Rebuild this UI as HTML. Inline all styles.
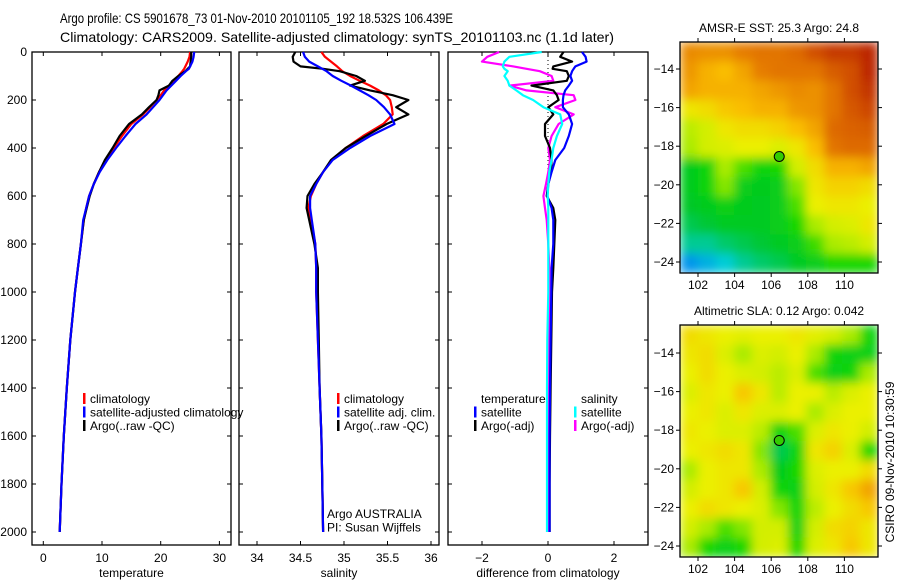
<!DOCTYPE html>
<html><head><meta charset="utf-8">
<style>
html,body{margin:0;padding:0;background:#fff;}
svg{display:block;font-family:"Liberation Sans",sans-serif;}
</style></head>
<body>
<svg id="fig" width="900" height="580" viewBox="0 0 900 580" xmlns="http://www.w3.org/2000/svg">
<defs>
<filter id="blurA" filterUnits="userSpaceOnUse" x="680" y="42" width="198" height="231"><feGaussianBlur stdDeviation="5" edgeMode="duplicate"/></filter>
<filter id="blurB" filterUnits="userSpaceOnUse" x="680" y="325" width="198" height="232"><feGaussianBlur stdDeviation="5" edgeMode="duplicate"/></filter>
<clipPath id="clipA"><rect x="680" y="42" width="198" height="231"/></clipPath>
<clipPath id="clipB"><rect x="680" y="325" width="198" height="232"/></clipPath>
</defs>
<text x="60" y="23" font-size="14" textLength="393" lengthAdjust="spacingAndGlyphs">Argo profile: CS 5901678_73 01-Nov-2010 20101105_192 18.532S 106.439E</text>
<text x="60" y="42" font-size="14" textLength="554" lengthAdjust="spacingAndGlyphs">Climatology: CARS2009. Satellite-adjusted climatology: synTS_20101103.nc (1.1d later)</text>
<g id="layer"></g>
</svg>
<script>
// ---- profile data ----
const depths = [0,20,40,60,70,80,100,120,140,160,180,200,230,260,300,350,400,450,500,550,600,650,700,800,900,1000,1200,1400,1600,1800,2000];
const tempClim = [25,24.9,24.6,24.2,24,23.7,23,22.2,21.4,20.6,20,19.3,18.2,17,15,13.4,12,10.6,9.5,8.6,7.8,7.3,6.9,6.4,5.9,5.4,4.6,4,3.5,3.1,2.8];
const tempSat = [25.7,25.6,25.4,25,24.8,24.3,23.4,22.6,21.8,21,20.4,19.8,18.7,17.6,15.7,14,12.4,10.9,9.6,8.6,7.8,7.3,6.8,6.4,5.9,5.4,4.6,4,3.5,3.1,2.8];
const tempArgo = [25.2,25.2,25.1,25,24.6,24.2,23,22,21.4,19.8,19.6,19.3,18,16.8,14.6,13,11.8,10.5,9.5,8.6,7.9,7.4,6.9,6.4,5.9,5.4,4.6,4,3.5,3.1,2.8];
const salClim = [34.74,34.78,34.85,34.92,34.95,34.98,35.07,35.18,35.3,35.4,35.48,35.53,35.55,35.56,35.45,35.22,35.02,34.86,34.76,34.68,34.62,34.59,34.62,34.67,34.68,34.68,34.7,34.72,34.74,34.75,34.76];
const salSat = [34.53,34.55,34.6,34.7,34.75,34.8,34.87,34.97,35.08,35.18,35.28,35.37,35.46,35.53,35.58,35.3,35.07,34.87,34.76,34.68,34.61,34.61,34.63,34.67,34.68,34.68,34.7,34.72,34.74,34.75,34.76];
const salArgo = [34.44,34.41,34.42,34.5,34.76,34.95,35.14,35.24,35.07,35.3,35.56,35.74,35.6,35.74,35.49,35.25,35.02,34.85,34.76,34.66,34.58,34.57,34.6,34.66,34.7,34.7,34.71,34.72,34.74,34.75,34.76];
const diffTempSat = [1.03,1.14,1.17,0.83,0.78,0.73,0.68,0.73,0.63,0.52,0.47,0.45,0.45,0.63,0.73,0.63,0.49,0.22,0.11,0.01,-0.02,0.11,0.16,0.16,0.11,0.1,0.08,0.06,0.05,0.05,0.05];
const diffTempArgo = [0.47,0.37,0.73,0.16,0.14,0.57,0.63,0.57,-0.5,0.16,0.27,0.32,0.01,0.16,-0.09,-0.09,0.06,0.11,0.09,0.01,-0.04,0.16,0.22,0.19,0.16,0.12,0.1,0.08,0.06,0.05,0.05];
const diffSalSat = [-0.19,-1.17,-1.32,-1.37,-1.32,-1.22,-1.32,-1.22,-1.17,-0.96,-0.76,-0.45,-0.14,0.37,0.43,0.27,0.16,0.11,0.04,0.01,-0.01,0.01,0.01,0.01,0.01,0.01,-0.02,-0.03,-0.03,-0.03,-0.03];
const diffSalArgo = [-1.48,-1.84,-2.0,-1.05,-0.65,-0.25,0.11,0.16,-1.17,-0.65,0.78,0.83,0.22,0.78,0.32,0.11,0.01,0.06,0.01,-0.06,-0.14,-0.09,-0.04,0.01,0.04,0.04,0.03,0.03,0.02,0.02,0.02];
const depthTicks = [0,200,400,600,800,1000,1200,1400,1600,1800,2000];
const tempTicks = [0,10,20,30];
const salTicks = [34,34.5,35,35.5,36];
const diffTicks = [-2,0,2];
// ---- map data (normalised colour values, rows north->south, cols west->east) ----
const lonTicks = [102,104,106,108,110];
const latTicks = [-14,-16,-18,-20,-22,-24];
const sstGrid = [
[0.76,0.75,0.75,0.78,0.8,0.8,0.82,0.88,0.92,0.92,0.95],
[0.74,0.7,0.68,0.72,0.78,0.8,0.8,0.8,0.85,0.88,0.95],
[0.72,0.7,0.7,0.7,0.72,0.74,0.76,0.75,0.8,0.88,0.93],
[0.6,0.62,0.66,0.68,0.7,0.7,0.74,0.75,0.8,0.86,0.9],
[0.52,0.55,0.6,0.62,0.62,0.64,0.68,0.72,0.82,0.84,0.85],
[0.5,0.55,0.56,0.58,0.58,0.56,0.6,0.68,0.8,0.82,0.82],
[0.35,0.4,0.5,0.45,0.4,0.42,0.55,0.62,0.7,0.7,0.72],
[0.35,0.4,0.48,0.36,0.35,0.36,0.48,0.6,0.64,0.64,0.62],
[0.33,0.35,0.38,0.35,0.34,0.36,0.45,0.58,0.6,0.6,0.58],
[0.3,0.32,0.34,0.34,0.34,0.36,0.42,0.5,0.55,0.56,0.6],
[0.25,0.25,0.28,0.3,0.32,0.34,0.36,0.44,0.5,0.52,0.55],
[0.1,0.15,0.2,0.25,0.28,0.3,0.34,0.36,0.42,0.42,0.42]];
const slaGrid = [
[0.62,0.6,0.58,0.57,0.58,0.58,0.6,0.57,0.55,0.5,0.4],
[0.6,0.62,0.56,0.5,0.56,0.55,0.58,0.5,0.4,0.38,0.38],
[0.58,0.62,0.58,0.56,0.55,0.52,0.56,0.45,0.38,0.4,0.5],
[0.56,0.6,0.58,0.66,0.6,0.52,0.58,0.58,0.52,0.56,0.58],
[0.58,0.6,0.56,0.6,0.56,0.56,0.58,0.5,0.56,0.58,0.58],
[0.6,0.58,0.56,0.56,0.52,0.4,0.45,0.56,0.6,0.58,0.55],
[0.58,0.6,0.62,0.6,0.48,0.3,0.4,0.6,0.64,0.56,0.42],
[0.5,0.58,0.6,0.6,0.5,0.35,0.42,0.56,0.58,0.58,0.62],
[0.55,0.58,0.6,0.66,0.55,0.4,0.38,0.55,0.6,0.66,0.72],
[0.58,0.62,0.6,0.58,0.56,0.48,0.4,0.52,0.58,0.62,0.66],
[0.55,0.5,0.45,0.48,0.55,0.55,0.38,0.55,0.62,0.64,0.6],
[0.5,0.42,0.38,0.42,0.55,0.56,0.42,0.56,0.6,0.66,0.6]];
const floatLon = 106.439, floatLat = -18.532;

const NS='http://www.w3.org/2000/svg';
const layer=document.getElementById('layer');
function mk(tag,attrs,parent){const e=document.createElementNS(NS,tag);for(const k in attrs)e.setAttribute(k,attrs[k]);(parent||layer).appendChild(e);return e;}
function txt(s,attrs,parent){const e=mk('text',attrs,parent);e.textContent=s;return e;}

// axes
const yTop=52, yBot=545;
const yD = d => 52 + d*0.24;
const xT = v => 43.3 + v*5.87;
const xS = v => 257 + (v-34)*87;
const xDf = v => 548 + v*33;

function panel(name,x0,x1,xf,ticks,label,labelName){
  const g=mk('g',{});
  
  
  const r=mk('rect',{x:x0,y:yTop,width:x1-x0,height:yBot-yTop,fill:'none',stroke:'#000','stroke-width':1.3},g);
  
  
  ticks.forEach(t=>{
    const x=xf(t);
    mk('line',{x1:x,x2:x,y1:yBot,y2:yBot-4,stroke:'#000'},g);
    mk('line',{x1:x,x2:x,y1:yTop,y2:yTop+4,stroke:'#000'},g);
    const tl=txt(String(t).replace('-','\u2212'),{x:x,y:562,'font-size':12,'text-anchor':'middle'},g);
    
    
  });
  depthTicks.forEach(d=>{
    const y=yD(d);
    mk('line',{x1:x0,x2:x0+4,y1:y,y2:y,stroke:'#000'},g);
    mk('line',{x1:x1,x2:x1-4,y1:y,y2:y,stroke:'#000'},g);
  });
  const al=txt(label,{x:(x0+x1)/2,y:577,'font-size':12,'text-anchor':'middle'},g);
  
  
  return g;
}
function series(g,xs,xf,color,name,w){
  const pts=xs.map((v,i)=>xf(v).toFixed(1)+','+yD(depths[i]).toFixed(1)).join(' ');
  const p=mk('polyline',{points:pts,fill:'none',stroke:color,'stroke-width':w||2.2,'stroke-linejoin':'round'},g);
  
  
}
function legend(g,items,x,y){
  items.forEach((it,i)=>{
    if(it.c){ mk('rect',{x:x,y:y+i*13.5-10,width:2.5,height:11,fill:it.c},g); }
    const t=txt(it.t,{x:x+7,y:y+i*13.5,'font-size':12},g);
    
    
  });
}

// depth labels
depthTicks.forEach(d=>{
  const t=txt(String(d),{x:27,y:yD(d)+4,'font-size':12,'text-anchor':'end'});
  
  
});

const p1=panel('temperature-panel',32,231,xT,tempTicks,'temperature','temperature-axis-title');
series(p1,tempClim,xT,'#ff0000','temperature-climatology-line');
series(p1,tempArgo,xT,'#000000','temperature-argo-line');
series(p1,tempSat,xT,'#0000ff','temperature-satellite-line');
legend(p1,[{c:'#f00',t:'climatology',n:'legend-climatology'},{c:'#00f',t:'satellite-adjusted climatology',n:'legend-satellite-adjusted'},{c:'#000',t:'Argo(..raw -QC)',n:'legend-argo-raw'}],83,403);

const p2=panel('salinity-panel',239,439,xS,salTicks,'salinity','salinity-axis-title');
series(p2,salClim,xS,'#ff0000','salinity-climatology-line');
series(p2,salArgo,xS,'#000000','salinity-argo-line');
series(p2,salSat,xS,'#0000ff','salinity-satellite-line');
legend(p2,[{c:'#f00',t:'climatology',n:'legend-sal-climatology'},{c:'#00f',t:'satellite adj. clim.',n:'legend-sal-satellite'},{c:'#000',t:'Argo(..raw -QC)',n:'legend-sal-argo'}],337,403);
legend(p2,[{t:'Argo AUSTRALIA',n:'argo-australia-label'},{t:'PI: Susan Wijffels',n:'pi-label'}],320,518);

const p3=panel('difference-panel',448,648,xDf,diffTicks,'difference from climatology','difference-axis-title');
mk('line',{x1:xDf(0),x2:xDf(0),y1:yTop,y2:yD(2000),stroke:'#000','stroke-dasharray':'1,3'},p3);
series(p3,diffSalArgo,xDf,'#ff00ff','diff-salinity-argo-line');
series(p3,diffTempArgo,xDf,'#000000','diff-temperature-argo-line');
series(p3,diffTempSat,xDf,'#0000ff','diff-temperature-satellite-line');
series(p3,diffSalSat,xDf,'#00ffff','diff-salinity-satellite-line');
legend(p3,[{t:'temperature',n:'legend-temperature-heading'},{c:'#00f',t:'satellite',n:'legend-temp-satellite'},{c:'#000',t:'Argo(-adj)',n:'legend-temp-argo'}],474,403);
legend(p3,[{t:'salinity',n:'legend-salinity-heading'},{c:'#0ff',t:'satellite',n:'legend-sal-satellite-diff'},{c:'#f0f',t:'Argo(-adj)',n:'legend-sal-argo-diff'}],574,403);

// colormap
const stops=[[0,[0,90,255]],[0.2,[0,205,215]],[0.33,[0,200,40]],[0.42,[20,215,0]],[0.5,[170,235,0]],[0.58,[235,240,0]],[0.68,[250,190,0]],[0.78,[230,125,0]],[0.9,[205,70,0]],[1,[170,10,0]]];
function cmap(v){
  for(let i=1;i<stops.length;i++){
    if(v<=stops[i][0]){const a=stops[i-1],b=stops[i];const t=(v-a[0])/(b[0]-a[0]);
      return 'rgb('+a[1].map((c,k)=>Math.round(c+(b[1][k]-c)*t)).join(',')+')';}
  }
  return 'rgb(170,10,0)';
}
function mapPanel(name,grid,bx,by,bw,bh,lonX,latY,filt,clip,title,titleName){
  const g=mk('g',{});
  
  
  const inner=mk('g',{'clip-path':'url(#'+clip+')'},g);
  const hg=mk('g',{filter:'url(#'+filt+')'},inner);
  const rows=grid.length, cols=grid[0].length;
  const cw=bw/cols, ch=bh/rows;
  grid.forEach((row,r)=>row.forEach((v,c)=>{
    const cell=mk('rect',{x:bx+c*cw,y:by+r*ch,width:cw+0.6,height:ch+0.6,fill:cmap(v)},hg);
    
    
  }));
  const fr=mk('rect',{x:bx,y:by,width:bw,height:bh,fill:'none',stroke:'#000','stroke-width':1.3},g);
  
  
  lonTicks.forEach(l=>{
    const x=lonX(l);
    mk('line',{x1:x,x2:x,y1:by,y2:by-4,stroke:'#000'},g);
    mk('line',{x1:x,x2:x,y1:by+bh,y2:by+bh+4,stroke:'#000'},g);
    const t=txt(String(l),{x:x,y:by+bh+16,'font-size':12,'text-anchor':'middle'},g);
    
    
  });
  latTicks.forEach(l=>{
    const y=latY(l);
    mk('line',{x1:bx,x2:bx-4,y1:y,y2:y,stroke:'#000'},g);
    mk('line',{x1:bx+bw,x2:bx+bw+4,y1:y,y2:y,stroke:'#000'},g);
    const t=txt('\u2212'+Math.abs(l),{x:bx-6,y:y+4,'font-size':12,'text-anchor':'end'},g);
    
    
  });
  const c=mk('circle',{cx:lonX(floatLon),cy:latY(floatLat),r:5,fill:'#33cc00',stroke:'#000','stroke-width':1},g);
  
  
  const tt=txt(title,{x:bx+bw/2,y:by-10,'font-size':12,'text-anchor':'middle'},g);
  
  
}
const lonX = l => 698 + (l-102)*18.3;
mapPanel('sst-map',sstGrid,680,42,198,231,lonX,l=>69+(-14-l)*19.3,'blurA','clipA','AMSR-E SST: 25.3 Argo: 24.8','sst-map-title');
mapPanel('sla-map',slaGrid,680,325,198,232,lonX,l=>353+(-14-l)*19.3,'blurB','clipB','Altimetric SLA: 0.12 Argo: 0.042','sla-map-title');

const cs=txt('CSIRO 09-Nov-2010 10:30:59',{x:0,y:0,'font-size':12,'text-anchor':'middle',transform:'translate(894,462) rotate(-90)'});


</script>
</body></html>
